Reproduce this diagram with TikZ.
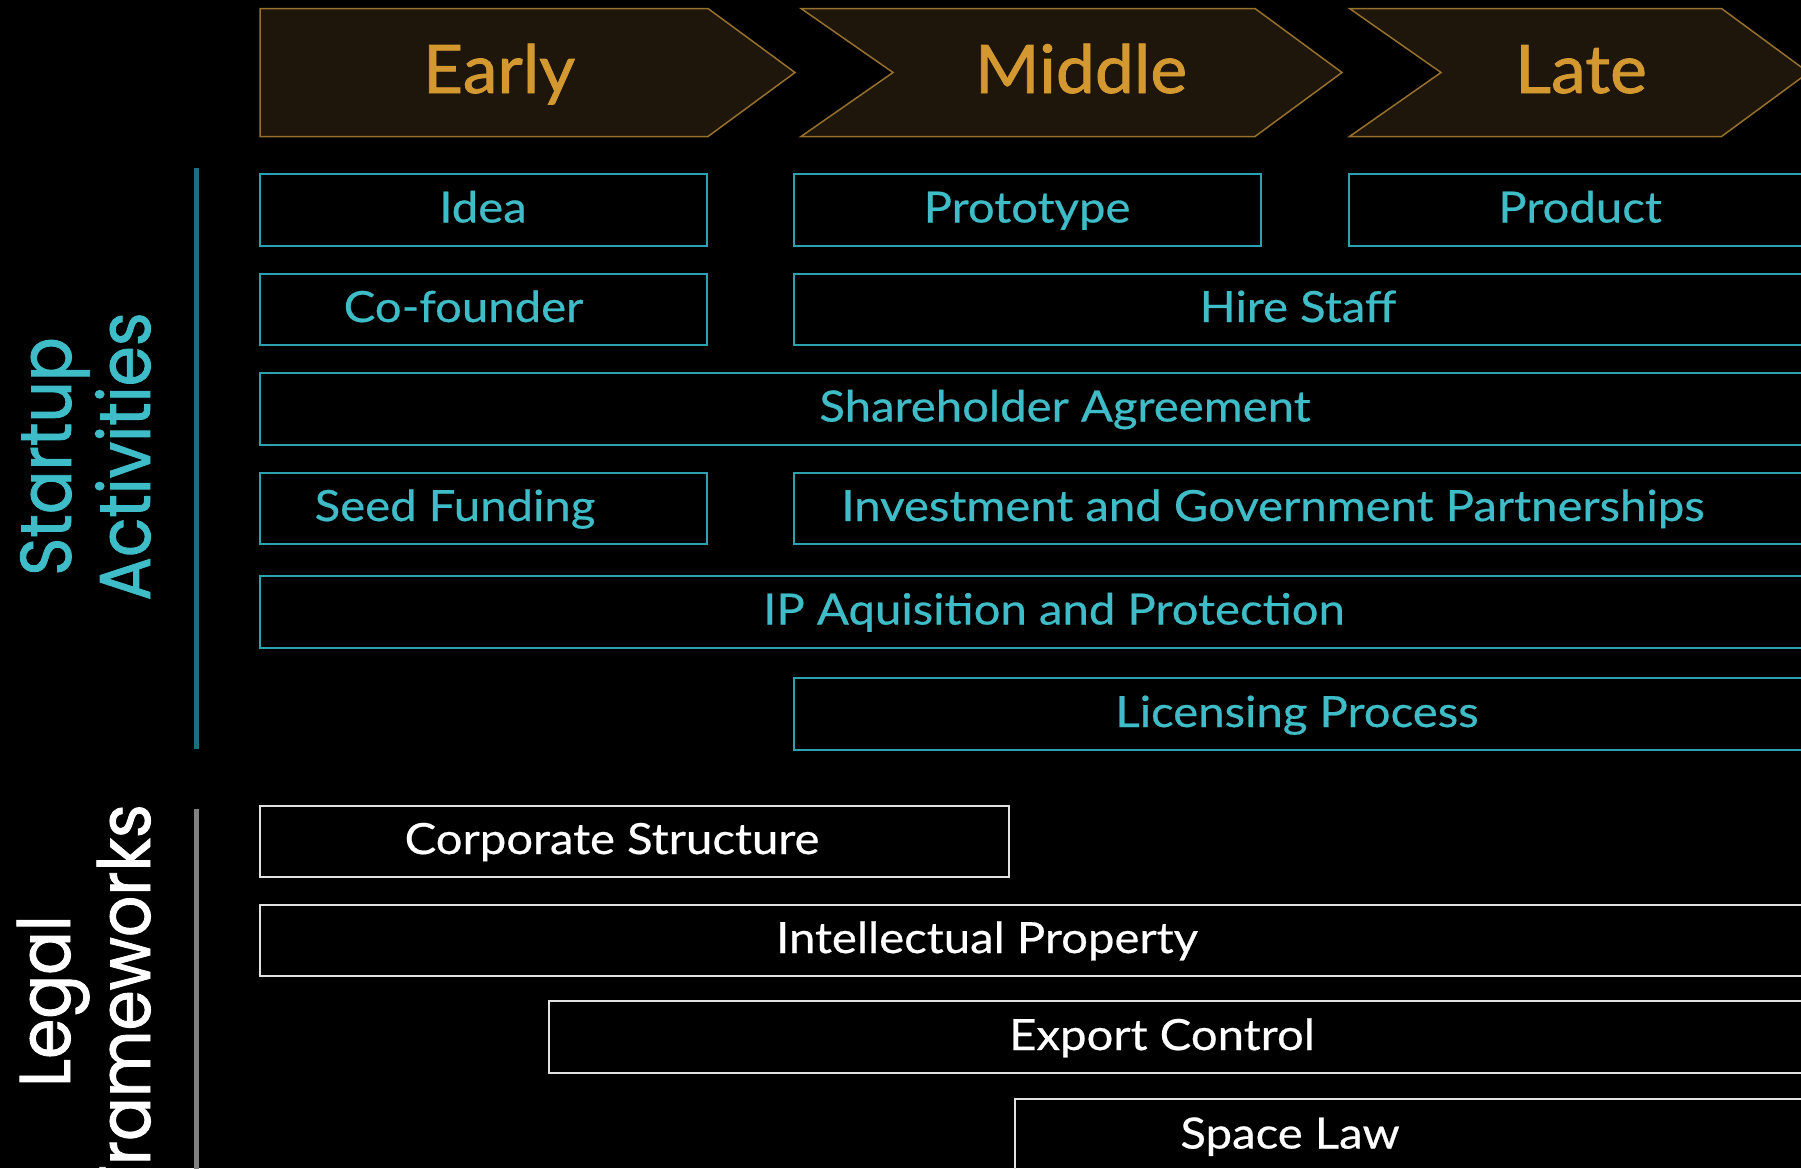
\documentclass[tikz,border=0pt]{standalone}
\usepackage{fontspec}
\setmainfont{Lato}
\newfontfamily\boxfont{Lato}[FakeStretch=1.1, FakeBold=0.5]
\newfontfamily\headfont{Lato}[FakeStretch=1.04, FakeBold=1.2]
\newfontfamily\sidefont{Poppins}[FakeStretch=0.9, FakeBold=1.2]
\definecolor{bg}{RGB}{0,0,0}
\definecolor{tealtext}{RGB}{62,189,200}
\definecolor{tealborder}{RGB}{45,162,174}
\definecolor{tealline}{RGB}{28,112,126}
\definecolor{goldtext}{RGB}{212,152,48}
\definecolor{chevfill}{RGB}{30,22,10}
\definecolor{chevdraw}{RGB}{150,112,45}
\definecolor{whiteborder}{RGB}{225,225,225}
\definecolor{grayline}{RGB}{128,128,128}
\begin{document}
\begin{tikzpicture}[x=1pt,y=-1pt,
  chev/.style={fill=chevfill, draw=chevdraw, line width=1.5pt, line join=miter},
  chevtxt/.style={text=goldtext, font=\headfont\fontsize{67}{70}\selectfont, anchor=base, inner sep=0pt},
  tealbox/.style={draw=tealborder, line width=2pt},
  whitebox/.style={draw=whiteborder, line width=2pt},
  tealtxt/.style={text=tealtext, font=\boxfont\fontsize{43}{48}\selectfont, anchor=base, inner sep=0pt},
  whitetxt/.style={text=white, font=\boxfont\fontsize{43}{48}\selectfont, anchor=base, inner sep=0pt},
  sidetxt/.style={font=\sidefont\fontsize{72}{76}\selectfont, rotate=90, anchor=base, inner sep=0pt},
  sideline/.style={line width=5pt}]
\path[use as bounding box, fill=bg] (0,0) rectangle (1801,1168);
\clip (0,0) rectangle (1801,1168);

% chevrons
\draw[chev] (260,8.5) -- (708,8.5) -- (795,72.5) -- (708,136.5) -- (260,136.5) -- cycle;
\draw[chev] (801,8.5) -- (1255,8.5) -- (1342,72.5) -- (1255,136.5) -- (801,136.5) -- (893,72.5) -- cycle;
\draw[chev] (1349.5,8.5) -- (1721.5,8.5) -- (1808.5,72.5) -- (1721.5,136.5) -- (1349.5,136.5) -- (1441,72.5) -- cycle;
\node[chevtxt] (early) at (499,93) {Early};
\node[chevtxt] (middle) at (1081,93) {Middle};
\node[chevtxt] (late) at (1581,93) {Late};

% side labels
\node[sidetxt, text=tealtext] (startup) at (71,456.5) {Startup};
\node[sidetxt, text=tealtext] (activities) at (150,456.5) {Activities};
\node[sidetxt, text=white] (legal) at (70,1001) {Legal};
\node[sidetxt, text=white] (frameworks) at (150,1001) {Frameworks};
\coordinate (tl1) at (196.5,168);
\coordinate (tl2) at (196.5,749);
\coordinate (gl1) at (196.5,809);
\coordinate (gl2) at (196.5,1175);
\draw[sideline, tealline] (tl1) -- (tl2);
\draw[sideline, grayline] (gl1) -- (gl2);

% startup activity boxes
\draw[tealbox] (260,174) rectangle (707,245.5);
\draw[tealbox] (794,174) rectangle (1261,245.5);
\draw[tealbox] (1349,174) rectangle (1815,245.5);
\draw[tealbox] (260,273.5) rectangle (707,345);
\draw[tealbox] (794,273.5) rectangle (1815,345);
\draw[tealbox] (260,373) rectangle (1815,444.5);
\draw[tealbox] (260,472.5) rectangle (707,544);
\draw[tealbox] (794,472.5) rectangle (1815,544);
\draw[tealbox] (260,576) rectangle (1815,647.5);
\draw[tealbox] (794,678) rectangle (1815,749.5);

\node[tealtxt] (idea) at (483,222.5) {Idea};
\node[tealtxt] (proto) at (1027,222.5) {Prototype};
\node[tealtxt] (product) at (1580,222.5) {Product};
\node[tealtxt] (cofounder) at (463.5,322) {Co-founder};
\node[tealtxt] (hire) at (1298,322) {Hire Staff};
\node[tealtxt] (share) at (1065,421.5) {Shareholder Agreement};
\node[tealtxt] (seed) at (455,521) {Seed Funding};
\node[tealtxt] (invest) at (1273,521) {Investment and Government Partnerships};
\node[tealtxt] (ip) at (1054,624.5) {IP Aquisition and Protection};
\node[tealtxt] (lic) at (1297,727) {Licensing Process};

% legal framework boxes
\draw[whitebox] (260,805.5) rectangle (1009,877);
\draw[whitebox] (260,904.5) rectangle (1815,976);
\draw[whitebox] (549,1001) rectangle (1815,1073);
\draw[whitebox] (1015,1099) rectangle (1815,1200);

\node[whitetxt] (corp) at (612,854) {Corporate Structure};
\node[whitetxt] (intel) at (987,953) {Intellectual Property};
\node[whitetxt] (export) at (1162,1050) {Export Control};
\node[whitetxt] (space) at (1290,1148.5) {Space Law};
\end{tikzpicture}
\end{document}
